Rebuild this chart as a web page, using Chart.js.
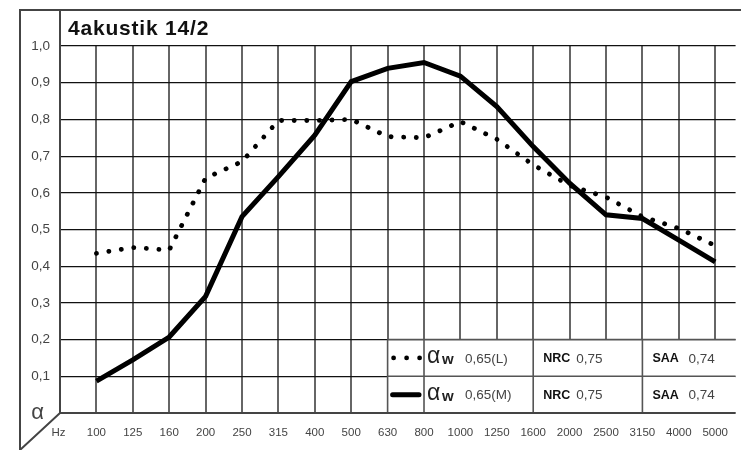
<!DOCTYPE html>
<html>
<head>
<meta charset="utf-8">
<script src="https://cdn.jsdelivr.net/npm/chart.js@4"></script>
<style>
  html, body { margin: 0; padding: 0; background: #fff; overflow: hidden; }
  canvas { display: block; }
</style>
</head>
<body>
<canvas id="chart" width="741" height="450"></canvas>
<script>
// chart data
const title = '4akustik 14/2';
const freqs = ['100', '125', '160', '200', '250', '315', '400', '500', '630', '800',
               '1000', '1250', '1600', '2000', '2500', '3150', '4000', '5000'];
const alphaL = [0.435, 0.451, 0.444, 0.64, 0.685, 0.797, 0.797, 0.80, 0.753, 0.75,
                0.794, 0.746, 0.676, 0.62, 0.588, 0.535, 0.503, 0.456];
const alphaM = [0.087, 0.145, 0.207, 0.318, 0.535, 0.644, 0.757, 0.903, 0.939, 0.955,
                0.918, 0.835, 0.726, 0.626, 0.54, 0.53, 0.471, 0.412];
const alphaW = ['0,65(L)', '0,65(M)'];
const nrc = ['0,75', '0,75'];
const saa = ['0,74', '0,74'];

const FONT = '"Liberation Sans", Arial, Helvetica, sans-serif';
const TXT = '#444';

// frame, title and the little value table in the lower right
const framePlugin = {
  id: 'frame',
  beforeDatasetsDraw(chart) {
    const { ctx, chartArea: a, scales: { x, y } } = chart;
    ctx.save();

    // table background over the grid
    const tx0 = x.getPixelForValue(8), tx1 = x.getPixelForValue(9);
    const tx2 = x.getPixelForValue(12), tx3 = x.getPixelForValue(15);
    const r0 = y.getPixelForValue(0.2), r1 = y.getPixelForValue(0.1), r2 = y.getPixelForValue(0);
    ctx.fillStyle = '#fff';
    ctx.fillRect(tx0, r0, a.right - tx0, r2 - r0);

    ctx.strokeStyle = '#555';
    ctx.lineWidth = 1.6;
    ctx.beginPath();
    ctx.moveTo(tx0, r0); ctx.lineTo(a.right, r0);
    ctx.moveTo(tx0, r1); ctx.lineTo(a.right, r1);
    [tx0, tx1, tx2, tx3].forEach(px => { ctx.moveTo(px, r0); ctx.lineTo(px, r2); });
    ctx.stroke();

    // samples
    const rows = [(r0 + r1) / 2, (r1 + r2) / 2];
    ctx.fillStyle = '#000';
    [tx0 + 6, tx0 + 19, tx0 + 32].forEach(px => {
      ctx.beginPath(); ctx.arc(px, rows[0], 2.4, 0, Math.PI * 2); ctx.fill();
    });
    ctx.strokeStyle = '#000';
    ctx.lineWidth = 5;
    ctx.lineCap = 'round';
    ctx.beginPath();
    ctx.moveTo(tx0 + 5, rows[1]); ctx.lineTo(tx1 - 5, rows[1]);
    ctx.stroke();

    // texts
    ctx.textBaseline = 'middle';
    rows.forEach((ry, i) => {
      ctx.fillStyle = '#222';
      ctx.font = '23px ' + FONT;
      ctx.fillText('α', tx1 + 3, ry - 1);
      ctx.font = 'bold 15px ' + FONT;
      ctx.fillText('w', tx1 + 18, ry + 2);
      ctx.fillStyle = TXT;
      ctx.font = '13.5px ' + FONT;
      ctx.fillText(alphaW[i], tx1 + 41, ry + 1);

      ctx.fillStyle = '#111';
      ctx.font = 'bold 12.5px ' + FONT;
      ctx.fillText('NRC', tx2 + 10, ry + 1);
      ctx.fillStyle = TXT;
      ctx.font = '13.5px ' + FONT;
      ctx.fillText(nrc[i], tx2 + 43, ry + 1);

      ctx.fillStyle = '#111';
      ctx.font = 'bold 12.5px ' + FONT;
      ctx.fillText('SAA', tx3 + 10, ry + 1);
      ctx.fillStyle = TXT;
      ctx.font = '13.5px ' + FONT;
      ctx.fillText(saa[i], tx3 + 46, ry + 1);
    });

    // outer frame
    ctx.strokeStyle = '#444';
    ctx.lineWidth = 2;
    ctx.lineCap = 'butt';
    ctx.beginPath();
    ctx.moveTo(20, chart.height); ctx.lineTo(20, 10); ctx.lineTo(chart.width, 10);
    ctx.moveTo(a.left, 10); ctx.lineTo(a.left, a.bottom);
    ctx.moveTo(a.left, a.bottom); ctx.lineTo(20, chart.height);
    ctx.moveTo(a.left, a.bottom); ctx.lineTo(a.right, a.bottom);
    ctx.stroke();

    // title
    ctx.fillStyle = '#111';
    ctx.font = 'bold 21px ' + FONT;
    ctx.letterSpacing = '0.8px';
    ctx.textBaseline = 'alphabetic';
    ctx.fillText(title, a.left + 8, 35);
    ctx.restore();
  }
};

new Chart(document.getElementById('chart').getContext('2d'), {
  type: 'line',
  data: {
    datasets: [
      {
        label: 'αw 0,65(L)',
        data: alphaL.map((v, i) => ({ x: i, y: v })),
        borderColor: '#000',
        borderWidth: 4.8,
        borderDash: [0.1, 12.5],
        borderCapStyle: 'round',
        pointRadius: 0,
        tension: 0,
      },
      {
        label: 'αw 0,65(M)',
        data: alphaM.map((v, i) => ({ x: i, y: v })),
        borderColor: '#000',
        borderWidth: 5,
        borderJoinStyle: 'miter',
        pointRadius: 0,
        tension: 0,
      },
    ],
  },
  options: {
    responsive: false,
    animation: false,
    devicePixelRatio: 1,
    layout: { padding: { left: 20, top: 46, right: 0, bottom: 0 } },
    plugins: { legend: { display: false }, tooltip: { enabled: false } },
    scales: {
      x: {
        type: 'linear',
        min: -1,
        max: 17.56,
        afterFit: s => { s.height = 37; },
        border: { display: false },
        grid: { color: '#666', lineWidth: 2, drawTicks: false },
        ticks: {
          stepSize: 1,
          includeBounds: false,
          autoSkip: false,
          maxRotation: 0,
          padding: 13,
          color: TXT,
          font: { family: FONT, size: 11.5 },
          callback: v => (v === -1 ? 'Hz ' : (freqs[v] || '')),
        },
      },
      y: {
        min: 0,
        max: 1,
        afterFit: s => { s.width = 40; },
        border: { display: false },
        grid: { color: '#111', lineWidth: 1.2, drawTicks: false },
        ticks: {
          stepSize: 0.1,
          padding: 10,
          color: TXT,
          font: ctx => (ctx.tick && ctx.tick.value === 0
            ? { family: FONT, size: 22 }
            : { family: FONT, size: 13.5 }),
          callback: v => (v === 0 ? 'α ' : v.toFixed(1).replace('.', ',')),
        },
      },
    },
  },
  plugins: [framePlugin],
});
</script>
</body>
</html>
